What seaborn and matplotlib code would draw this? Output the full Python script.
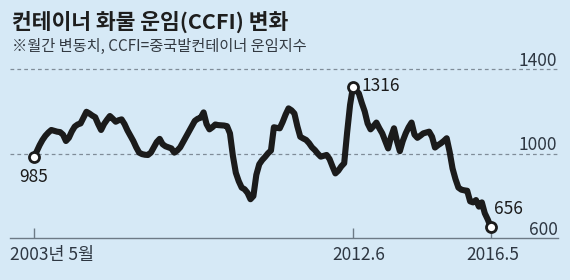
import numpy as np
import pandas as pd
import matplotlib
matplotlib.use("Agg")
import matplotlib.pyplot as plt
import seaborn as sns

# ---- data (monthly CCFI, 2003-05 .. 2016-05) ----
ccfi = [
    985, 1010, 1040, 1065, 1085, 1100, 1112, 1108, 1104, 1102,
    1090, 1060, 1075, 1105, 1128, 1138, 1143, 1170, 1198, 1190,
    1180, 1172, 1140, 1112, 1140, 1160, 1178, 1165, 1151, 1158,
    1162, 1140, 1110, 1085, 1060, 1030, 1005, 998, 995, 994,
    1005, 1030, 1055, 1070, 1045, 1035, 1030, 1025, 1005, 1015,
    1030, 1055, 1080, 1104, 1130, 1155, 1165, 1170, 1195, 1140,
    1115, 1125, 1138, 1135, 1134, 1133, 1130, 1096, 990, 910,
    870, 840, 832, 815, 785, 800, 900, 950, 970, 985,
    1002, 1015, 1125, 1122, 1120, 1150, 1185, 1214, 1205, 1190,
    1130, 1080, 1072, 1065, 1050, 1030, 1017, 1000, 986, 990,
    994, 975, 940, 907, 920, 940, 955, 1100, 1230, 1316,
    1300, 1285, 1240, 1200, 1143, 1115, 1130, 1147, 1120, 1096,
    1060, 1025, 1080, 1120, 1060, 1012, 1060, 1096, 1125, 1147,
    1090, 1075, 1085, 1096, 1100, 1104, 1080, 1029, 1040, 1049,
    1060, 1073, 1009, 930, 880, 840, 830, 827, 825, 775,
    770, 781, 750, 770, 719, 690, 656,
]
months = list(range(len(ccfi)))
tick_pos = [0, 109, 156]
tick_labels = ["2003년 5월", "2012.6", "2016.5"]
y_ticks = [600, 1000, 1400]
title = "컨테이너 화물 운임(CCFI) 변화"
subtitle = "※월간 변동치, CCFI=중국발컨테이너 운임지수"
highlight_idx = [0, 109, 156]

df = pd.DataFrame({"month": months, "ccfi": ccfi})

BG = "#d6e9f6"
TXT = "#2e3742"
sns.set_theme(style="white")
plt.rcParams["font.family"] = ["Noto Sans CJK KR", "DejaVu Sans"]

fig = plt.figure(figsize=(5.7, 2.8), dpi=100, facecolor=BG)
ax = fig.add_axes([10 / 570, (280 - 238.4) / 280, 548 / 570, (238.4 - 69) / 280])
ax.set_facecolor(BG)

sns.lineplot(data=df, x="month", y="ccfi", ax=ax, color="#1b1b1b",
             linewidth=4.4, solid_joinstyle="round", solid_capstyle="round",
             clip_on=False, zorder=3)

ax.set_xlim(-8.1, 179.0)
ax.set_ylim(600, 1400)

for s in ["top", "right", "left"]:
    ax.spines[s].set_visible(False)
ax.spines["bottom"].set_color("#6d7a86")
ax.spines["bottom"].set_linewidth(1.0)

for v in y_ticks[1:]:
    ax.axhline(v, color="#7f8c98", lw=0.9, ls=(0, (3, 2.5)), zorder=1, clip_on=False)

ax.set_yticks([])
ax.set_xticks(tick_pos)
ax.set_xticklabels([])
ax.tick_params(axis="x", direction="in", length=7, width=1, color="#6d7a86", bottom=True)
ax.set_xlabel("")
ax.set_ylabel("")

# x tick labels
trans = ax.get_xaxis_transform()
ax.text(-8.1, -0.10, tick_labels[0], transform=trans, ha="left", va="center",
        fontsize=12.5, color=TXT)
ax.text(tick_pos[1] + 2, -0.10, tick_labels[1], transform=trans, ha="center", va="center",
        fontsize=12.5, color=TXT)
ax.text(tick_pos[2] + 0.6, -0.10, tick_labels[2], transform=trans, ha="center", va="center",
        fontsize=12.5, color=TXT)

# y labels on the right, above their lines
ytr = ax.get_yaxis_transform()
for v in y_ticks:
    ax.text(0.999, v + 40, str(v), transform=ytr, ha="right", va="center",
            fontsize=12.5, color=TXT)

# highlighted points
hx = [months[i] for i in highlight_idx]
hy = [ccfi[i] for i in highlight_idx]
ax.scatter(hx, hy, s=52, facecolor="white", edgecolor="#1b1b1b", linewidth=2.0,
           zorder=5, clip_on=False)
ax.text(hx[0], hy[0] - 95, str(hy[0]), ha="center", va="center", fontsize=12.5, color="#1b1b1b")
ax.text(hx[1] + 3, hy[1] + 5, str(hy[1]), ha="left", va="center", fontsize=12.5, color="#1b1b1b")
ax.text(hx[2] + 1, hy[2] + 85, str(hy[2]), ha="left", va="center", fontsize=12.5, color="#1b1b1b")

fig.text(12 / 570, 1 - 22 / 280, title, ha="left", va="center", fontsize=15.5,
         fontweight="bold", color="#1e1e1e")
fig.text(12 / 570, 1 - 46 / 280, subtitle, ha="left", va="center", fontsize=11,
         color="#333a42")

fig.savefig("out.png", dpi=100, facecolor=BG)
